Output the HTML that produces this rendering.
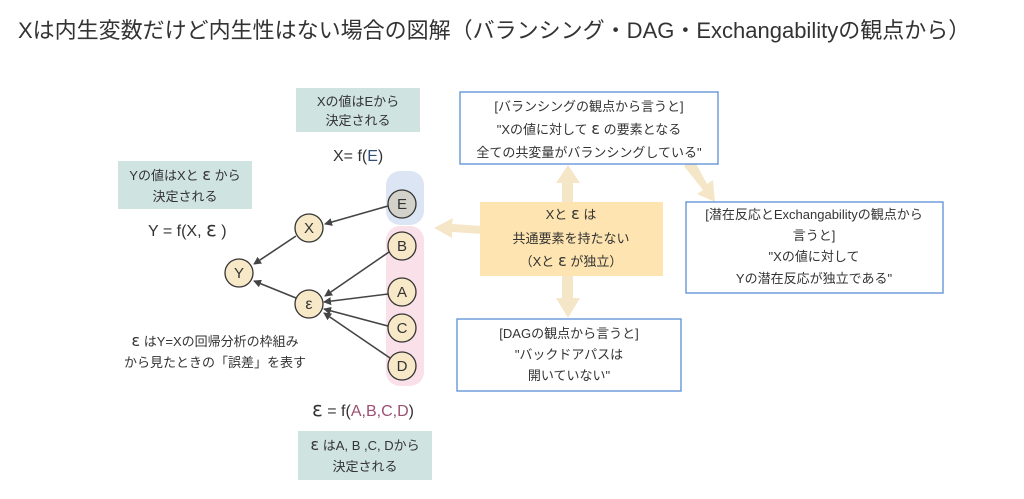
<!DOCTYPE html><html><head><meta charset="utf-8"><style>body{margin:0;background:#fff}svg{display:block}text{font-family:"Liberation Sans","Noto Sans CJK JP",sans-serif;fill:#333}.e{font-family:"DejaVu Sans",sans-serif;font-size:1.25em}</style></head><body>
<svg width="1024" height="499" viewBox="0 0 1024 499">
<defs><marker id="ah" markerWidth="8" markerHeight="8" refX="7" refY="4" orient="auto" markerUnits="userSpaceOnUse"><path d="M0,0 L8,4 L0,8z" fill="#444"/></marker></defs>
<text x="18" y="38" font-size="22" fill="#111">Xは内生変数だけど内生性はない場合の図解（バランシング・DAG・Exchangabilityの観点から）</text>
<rect x="296" y="88" width="124" height="44" fill="#cfe3e0"/>
<text x="358" y="106" font-size="13" text-anchor="middle">Xの値はEから</text>
<text x="358" y="125" font-size="13" text-anchor="middle">決定される</text>
<text x="333" y="161" font-size="16">X= f(<tspan fill="#33507a">E</tspan>)</text>
<rect x="118" y="161" width="134" height="48" fill="#cfe3e0"/>
<text x="185" y="180" font-size="13" text-anchor="middle">Yの値はXと <tspan class="e">ε</tspan> から</text>
<text x="185" y="201" font-size="13" text-anchor="middle">決定される</text>
<text x="148" y="236" font-size="16">Y = f(X, <tspan class="e" font-size="17">ε</tspan> )</text>
<rect x="386" y="171" width="38" height="54" rx="14" fill="#dbe5f3"/>
<rect x="386" y="226" width="38" height="160" rx="14" fill="#fae0e8"/>
<g stroke="#444" stroke-width="1.6" marker-end="url(#ah)">
<line x1="388" y1="206" x2="325" y2="224"/>
<line x1="296" y1="236" x2="254" y2="264"/>
<line x1="296" y1="298" x2="254" y2="281"/>
<line x1="389" y1="252" x2="325" y2="296"/>
<line x1="388" y1="294" x2="324" y2="302"/>
<line x1="388" y1="326" x2="324" y2="309"/>
<line x1="390" y1="358" x2="324" y2="313"/>
</g>
<g stroke="#333" stroke-width="1.3">
<circle cx="402" cy="204" r="14" fill="#d2d2ca"/>
<circle cx="309" cy="228" r="14" fill="#f7e9c8"/>
<circle cx="239" cy="273" r="14" fill="#f7e9c8"/>
<circle cx="309" cy="304" r="14" fill="#f7e9c8"/>
<circle cx="402" cy="246" r="14" fill="#f7e9c8"/>
<circle cx="402" cy="292" r="14" fill="#f7e9c8"/>
<circle cx="402" cy="328" r="14" fill="#f7e9c8"/>
<circle cx="402" cy="366" r="14" fill="#f7e9c8"/>
</g>
<g font-size="15" text-anchor="middle">
<text x="402" y="209">E</text><text x="309" y="233">X</text><text x="239" y="278">Y</text><text x="309" y="309" font-size="16" font-family="DejaVu Sans, sans-serif">ε</text>
<text x="402" y="251">B</text><text x="402" y="297">A</text><text x="402" y="333">C</text><text x="402" y="371">D</text>
</g>
<text x="215" y="346" font-size="13" text-anchor="middle"><tspan class="e">ε</tspan> はY=Xの回帰分析の枠組み</text>
<text x="215" y="367" font-size="13" text-anchor="middle">から見たときの「誤差」を表す</text>
<text x="312" y="416" font-size="16"><tspan class="e" font-size="17">ε</tspan> = f(<tspan fill="#9a5070">A,B,C,D</tspan>)</text>
<rect x="298" y="431" width="134" height="49" fill="#cfe3e0"/>
<text x="365" y="450" font-size="13" text-anchor="middle"><tspan class="e">ε</tspan> はA, B ,C, Dから</text>
<text x="365" y="471" font-size="13" text-anchor="middle">決定される</text>
<g fill="#f5e6c8">
<rect x="562" y="180" width="11" height="24"/><path d="M556,183 L568,165 L580,183z"/>
<rect x="562" y="274" width="11" height="28"/><path d="M556,298 L568,318 L580,298z"/>
<path d="M482,226 L452,224 L453,218 L434,228 L452,238 L452,232 L482,234z"/>
<path d="M684,166 L694,160 L707,184 L713,180 L715,202 L697,194 L703,190z"/>
</g>
<rect x="480" y="202" width="183" height="74" fill="#fde4b0"/>
<g font-size="13" text-anchor="middle">
<text x="571" y="219">Xと <tspan class="e">ε</tspan> は</text>
<text x="571" y="243">共通要素を持たない</text>
<text x="571" y="266">（Xと <tspan class="e">ε</tspan> が独立）</text>
</g>
<g fill="#fff" stroke="#5b8ed6" stroke-width="1.3">
<rect x="460" y="92" width="258" height="72"/>
<rect x="686" y="202" width="257" height="91"/>
<rect x="457" y="319" width="224" height="72"/>
</g>
<g font-size="13" text-anchor="middle">
<text x="589" y="111">[バランシングの観点から言うと]</text>
<text x="589" y="134">"Xの値に対して <tspan class="e">ε</tspan> の要素となる</text>
<text x="589" y="157">全ての共変量がバランシングしている"</text>
<text x="814" y="219">[潜在反応とExchangabilityの観点から</text>
<text x="814" y="240">言うと]</text>
<text x="814" y="261">"Xの値に対して</text>
<text x="814" y="283">Yの潜在反応が独立である"</text>
<text x="569" y="338">[DAGの観点から言うと]</text>
<text x="569" y="359">"バックドアパスは</text>
<text x="569" y="380">開いていない"</text>
</g>
</svg></body></html>
